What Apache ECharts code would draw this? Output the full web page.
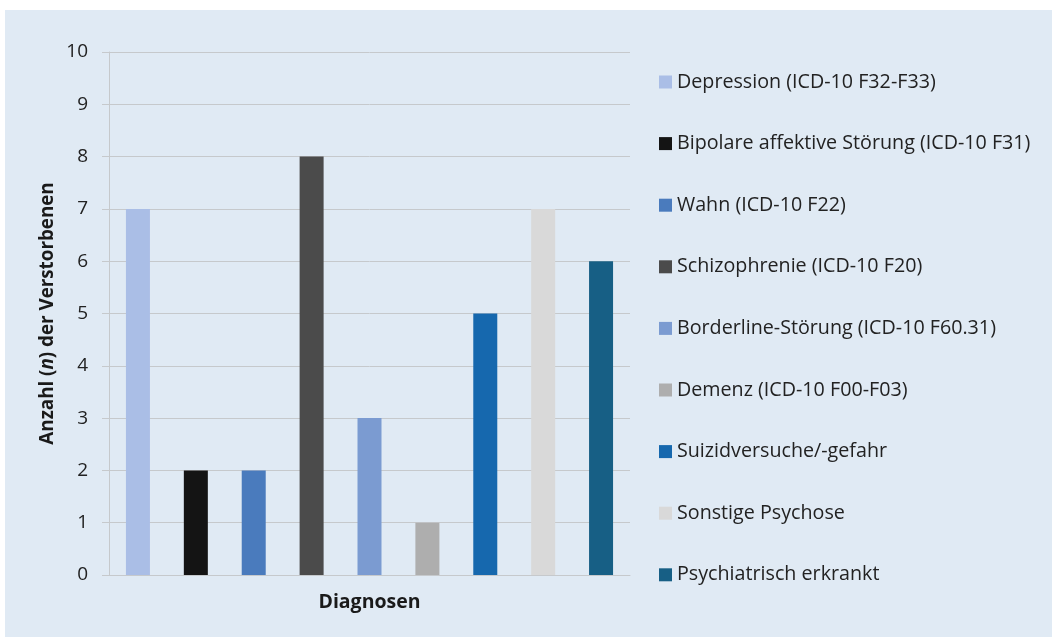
<!DOCTYPE html>
<html>
<head>
<meta charset="utf-8">
<script src="https://cdn.jsdelivr.net/npm/echarts@6/dist/echarts.min.js"></script>
<style>
  html, body { margin: 0; padding: 0; background: #ffffff; }
  #wrap { position: absolute; left: 5px; top: 10px; width: 1047px; height: 627px; background: #e0eaf4; }
  #chart { width: 1047px; height: 627px; }
</style>
</head>
<body>
<div id="wrap"><div id="chart"></div></div>
<script>
// Diagnosen und Anzahl der Verstorbenen
var categories = [
  'Depression (ICD-10 F32-F33)',
  'Bipolare affektive Störung (ICD-10 F31)',
  'Wahn (ICD-10 F22)',
  'Schizophrenie (ICD-10 F20)',
  'Borderline-Störung (ICD-10 F60.31)',
  'Demenz (ICD-10 F00-F03)',
  'Suizidversuche/-gefahr',
  'Sonstige Psychose',
  'Psychiatrisch erkrankt'
]
var counts = [7, 2, 2, 8, 3, 1, 5, 7, 6]
var colors = ['#aabee6', '#141414', '#4a7bbd', '#4b4b4b', '#7b9bd1', '#aeaeae', '#1668ae', '#d9d9d9', '#175f85']
var yTicks = [0, 1, 2, 3, 4, 5, 6, 7, 8, 9, 10]

var FONT = 'Open Sans'
var gridColor = '#c6c9cc'

// eine Serie je Diagnose, damit jede in der Legende steht
var series = categories.map(function (name, i) {
  var data = categories.map(function (c, j) { return j === i ? counts[i] : null })
  return {
    name: name,
    type: 'bar',
    stack: 'alle',
    barWidth: 24,
    itemStyle: { color: colors[i] },
    data: data
  }
})

var chart = echarts.init(document.getElementById('chart'))
chart.setOption({
  animation: false,
  textStyle: { fontFamily: FONT },
  grid: { left: 104, right: 422, top: 42, bottom: 62, containLabel: false },
  legend: {
    orient: 'vertical',
    left: 649,
    top: 57,
    itemWidth: 13,
    itemHeight: 13,
    itemGap: 41.6,
    icon: 'rect',
    textStyle: { fontFamily: FONT, fontSize: 19.7, lineHeight: 20, color: '#222222', padding: [0, 0, 0, 0] },
    data: categories
  },
  xAxis: {
    type: 'category',
    data: categories,
    name: 'Diagnosen',
    nameLocation: 'middle',
    nameGap: 17,
    nameTextStyle: { fontFamily: FONT, fontWeight: 'bold', fontSize: 19.5, color: '#1a1a1a' },
    axisLine: { show: true, lineStyle: { color: gridColor, width: 1 } },
    axisTick: { show: false },
    axisLabel: { show: false }
  },
  yAxis: {
    type: 'value',
    min: yTicks[0],
    max: yTicks[yTicks.length - 1],
    interval: 1,
    name: '{a|Anzahl (}{i|n}{a|) der Verstorbenen}',
    nameLocation: 'middle',
    nameGap: 52,
    nameTextStyle: {
      rich: {
        a: { fontFamily: FONT, fontWeight: 'bold', fontSize: 18.8, color: '#1a1a1a' },
        i: { fontFamily: FONT, fontWeight: 'bold', fontStyle: 'italic', fontSize: 18.8, color: '#1a1a1a' }
      }
    },
    axisLine: { show: true, lineStyle: { color: gridColor, width: 1 } },
    axisTick: { show: true, length: 7, lineStyle: { color: gridColor } },
    axisLabel: { fontFamily: FONT, fontSize: 19, color: '#222222', margin: 21 },
    splitLine: { show: true, lineStyle: { color: gridColor, width: 1 } }
  },
  series: series
})
</script>
</body>
</html>
